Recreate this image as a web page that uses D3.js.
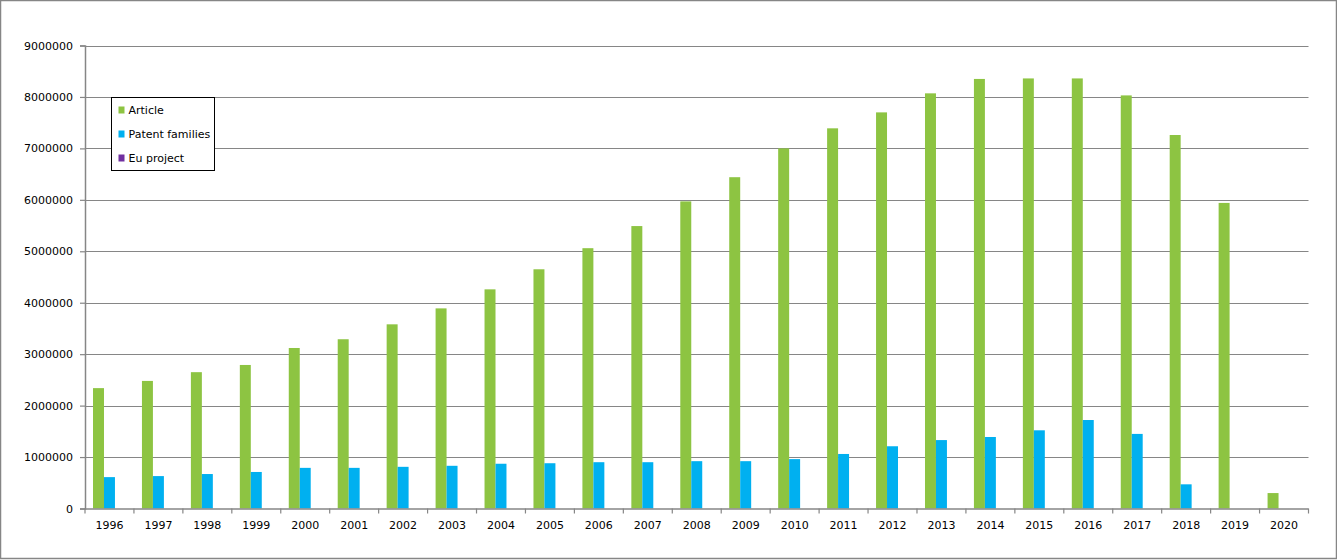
<!DOCTYPE html>
<html>
<head>
<meta charset="utf-8">
<script src="https://cdn.jsdelivr.net/npm/d3@7"></script>
<style>
  body { margin: 0; background: #fff; }
  text { font-family: "DejaVu Sans", Verdana, sans-serif; font-size: 11px; fill: #000; }
</style>
</head>
<body>
<script>
"use strict";

// data
var years = ["1996","1997","1998","1999","2000","2001","2002","2003","2004","2005","2006","2007","2008",
             "2009","2010","2011","2012","2013","2014","2015","2016","2017","2018","2019","2020"];
var seriesNames = ["Article", "Patent families", "Eu project"];
var article = [2340000, 2480000, 2650000, 2790000, 3120000, 3290000, 3580000, 3890000, 4260000, 4650000,
               5060000, 5490000, 5970000, 6440000, 7000000, 7390000, 7700000, 8070000, 8350000, 8360000,
               8360000, 8030000, 7260000, 5940000, 300000];
var patents = [610000, 630000, 670000, 710000, 790000, 790000, 810000, 830000, 870000, 880000,
               900000, 900000, 920000, 920000, 960000, 1060000, 1210000, 1330000, 1390000, 1520000,
               1720000, 1450000, 470000, 0, 0];
var euProject = [0, 0, 0, 0, 0, 0, 0, 0, 0, 0, 0, 0, 0, 0, 0, 0, 0, 0, 0, 0, 0, 0, 0, 0, 0];
var yTicks = [0, 1000000, 2000000, 3000000, 4000000, 5000000, 6000000, 7000000, 8000000, 9000000];
var colors = ["#8dc442", "#00b0f0", "#7030a0"];

var W = 1337, H = 560;
var plotLeft = 85, plotRight = 1308.5, plotTop = 45.5, plotBottom = 508.5;
var grey = "#868686";
var font = "\"DejaVu Sans\", Verdana, sans-serif";

var svg = d3.select("body").append("svg")
    .attr("width", W)
    .attr("height", H);

// outer frame
svg.append("rect")
    .attr("x", 0.5).attr("y", 0.5)
    .attr("width", W - 1).attr("height", H - 2)
    .attr("fill", "none").attr("stroke", grey).attr("stroke-width", 1.5);

var x0 = d3.scaleBand().domain(years).range([plotLeft, plotRight]).padding(0);
var x1 = d3.scaleBand().domain(seriesNames).range([0, x0.bandwidth()]).paddingInner(0).paddingOuter(0.73);
var y = d3.scaleLinear().domain([0, 9000000]).range([plotBottom, plotTop]);

// gridlines
svg.append("g").selectAll("line")
  .data(yTicks.slice(1))
  .enter().append("line")
    .attr("x1", plotLeft).attr("x2", plotRight)
    .attr("y1", function(d) { return Math.round(y(d)) + 0.5; })
    .attr("y2", function(d) { return Math.round(y(d)) + 0.5; })
    .attr("stroke", grey).attr("stroke-width", 1.2);

// bars
var table = years.map(function(yr, i) {
  return { year: yr, values: [article[i], patents[i], euProject[i]] };
});

var groups = svg.append("g").selectAll("g")
  .data(table)
  .enter().append("g")
    .attr("transform", function(d) { return "translate(" + x0(d.year) + ",0)"; });

groups.selectAll("rect")
  .data(function(d) { return d.values.map(function(v, k) { return { name: seriesNames[k], value: v, k: k }; }); })
  .enter().append("rect")
    .attr("x", function(d) { return x1(d.name); })
    .attr("width", x1.bandwidth())
    .attr("y", function(d) { return y(d.value); })
    .attr("height", function(d) { return y(0) - y(d.value); })
    .attr("fill", function(d) { return colors[d.k]; });

// y axis
var yAxis = svg.append("g")
    .attr("transform", "translate(" + plotLeft + ",0)")
    .call(d3.axisLeft(y).tickValues(yTicks).tickFormat(d3.format("d")).tickSize(5).tickPadding(7));

// x axis
var xAxis = svg.append("g")
    .attr("transform", "translate(0," + plotBottom + ")")
    .call(d3.axisBottom(x0).tickSize(0).tickPadding(13));

// x ticks between categories
svg.append("g").selectAll("line")
  .data(years.concat(["end"]))
  .enter().append("line")
    .attr("x1", function(d, i) { return plotLeft + i * x0.step(); })
    .attr("x2", function(d, i) { return plotLeft + i * x0.step(); })
    .attr("y1", plotBottom).attr("y2", plotBottom + 5)
    .attr("stroke", grey).attr("stroke-width", 1.2);

[yAxis, xAxis].forEach(function(ax) {
  ax.select(".domain").attr("stroke", grey).attr("stroke-width", 1.5);
  ax.selectAll(".tick line").attr("stroke", grey).attr("stroke-width", 1.2);
  ax.selectAll(".tick text").style("font-family", font)
    .style("font-size", "11px").attr("fill", "#000");
});
xAxis.select(".domain").attr("d", "M" + plotLeft + ",0.5H" + plotRight);

// legend
var legend = svg.append("g").attr("transform", "translate(111.5,97.5)");
legend.append("rect")
    .attr("width", 103).attr("height", 73)
    .attr("fill", "#fff").attr("stroke", "#000").attr("stroke-width", 1);

var items = legend.selectAll("g.item")
  .data(seriesNames)
  .enter().append("g")
    .attr("class", "item")
    .attr("transform", function(d, i) { return "translate(7," + (13 + i * 24) + ")"; });

items.append("rect")
    .attr("x", 0).attr("y", -4)
    .attr("width", 6).attr("height", 7)
    .attr("fill", function(d, i) { return colors[i]; });

items.append("text")
    .attr("x", 10).attr("y", 0)
    .attr("dy", "0.32em")
    .text(function(d) { return d; });
</script>
</body>
</html>
